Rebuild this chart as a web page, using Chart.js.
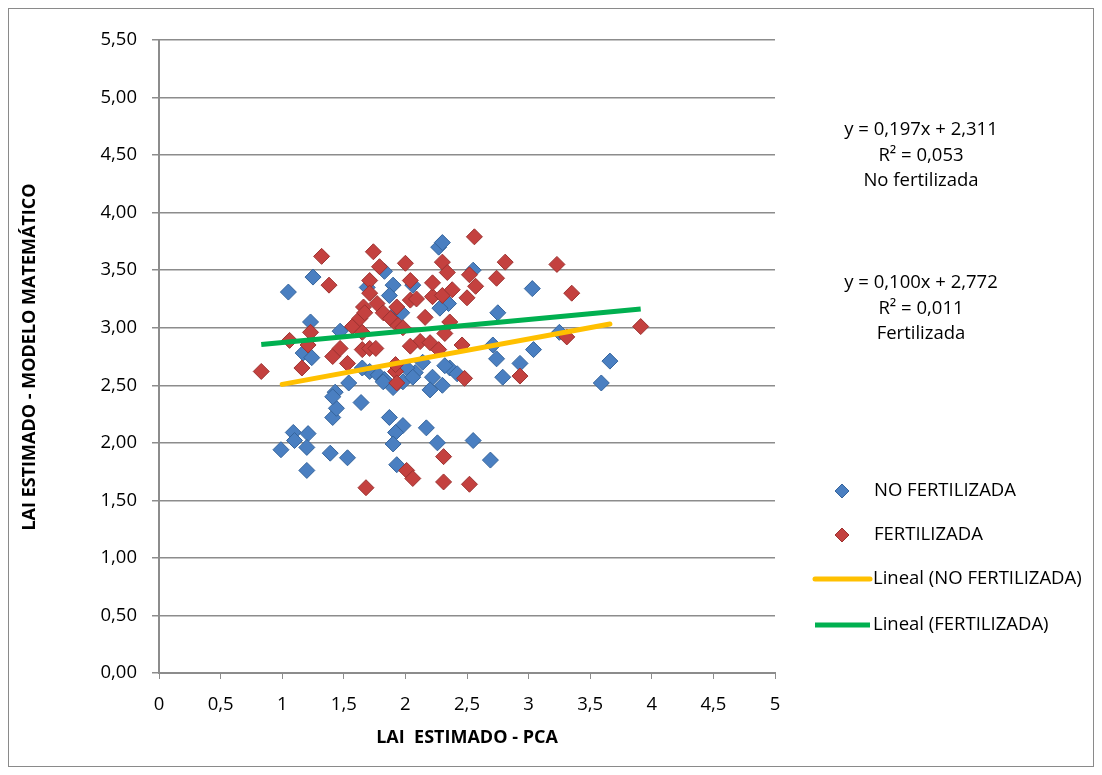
<!DOCTYPE html>
<html>
<head>
<meta charset="utf-8">
<script src="https://cdn.jsdelivr.net/npm/chart.js@4.4.1/dist/chart.umd.min.js"></script>
<style>
  body { margin: 0; background: #fff; }
  #wrap { width: 1102px; height: 775px; position: relative; }
</style>
</head>
<body>
<div id="wrap"><canvas id="chart" width="1102" height="775"></canvas></div>
<script>
// LAI estimado: PCA (x) vs modelo matemático (y)
const noFertX = [0.99, 1.05, 1.09, 1.10, 1.21, 1.20, 1.20, 1.17, 1.24, 1.23, 1.25, 1.39, 1.53, 1.41, 1.44, 1.43, 1.41, 1.54, 1.64, 1.47,
  1.71, 1.78, 1.83, 1.90, 1.87, 1.98, 1.92, 1.90, 1.93, 1.69, 1.83, 1.90, 1.87, 1.94, 1.97, 2.06, 2.27, 2.30, 2.55, 2.35,
  2.28, 3.03, 2.75, 3.25, 2.71, 3.04, 3.66, 2.74, 2.93, 2.79, 3.59, 2.08, 2.22, 2.30, 2.20, 2.36, 2.32, 2.01, 1.98, 2.17,
  2.26, 2.55, 2.69, 1.82, 2.06, 1.65, 2.14, 2.42];
const noFertY = [1.94, 3.31, 2.09, 2.02, 2.08, 1.96, 1.76, 2.78, 2.74, 3.05, 3.44, 1.91, 1.87, 2.22, 2.30, 2.44, 2.40, 2.52, 2.35, 2.97,
  2.62, 2.59, 2.55, 2.48, 2.22, 2.15, 2.09, 1.99, 1.81, 3.35, 3.49, 3.37, 3.28, 3.15, 3.13, 3.37, 3.70, 3.74, 3.50, 3.21,
  3.17, 3.34, 3.13, 2.96, 2.85, 2.81, 2.71, 2.73, 2.69, 2.57, 2.52, 2.61, 2.57, 2.50, 2.46, 2.65, 2.67, 2.65, 2.53, 2.13,
  2.00, 2.02, 1.85, 2.53, 2.57, 2.65, 2.70, 2.60];

const fertX = [0.83, 1.06, 1.16, 1.21, 1.23, 1.32, 1.38, 1.41, 1.47, 1.53, 1.57, 1.65, 1.65, 1.71, 1.74, 1.79, 1.71, 1.71, 1.77, 1.66,
  1.82, 1.88, 1.63, 1.67, 1.94, 1.68, 1.92, 1.93, 1.92, 2.01, 2.06, 2.31, 2.31, 2.52, 2.00, 2.04, 2.04, 2.09, 2.22, 2.30,
  2.38, 2.50, 2.22, 2.30, 2.34, 2.52, 2.57, 2.56, 2.74, 2.81, 3.23, 3.35, 2.16, 2.36, 2.32, 1.98, 2.12, 2.20, 2.27, 2.04,
  2.46, 2.48, 2.93, 3.31, 3.91, 1.93, 1.76];
const fertY = [2.62, 2.89, 2.65, 2.85, 2.96, 3.62, 3.37, 2.75, 2.82, 2.69, 3.01, 2.96, 2.81, 2.82, 3.66, 3.53, 3.41, 3.30, 3.21, 3.18,
  3.13, 3.08, 3.08, 3.13, 3.02, 1.61, 2.62, 2.52, 2.68, 1.76, 1.69, 1.88, 1.66, 1.64, 3.56, 3.41, 3.24, 3.25, 3.27, 3.28,
  3.33, 3.26, 3.39, 3.57, 3.48, 3.46, 3.36, 3.79, 3.43, 3.57, 3.55, 3.30, 3.09, 3.05, 2.95, 3.00, 2.88, 2.87, 2.81, 2.84,
  2.85, 2.56, 2.58, 2.92, 3.01, 3.18, 2.82];

// trend line end points
const noFertTrendX = [1.00, 3.66];
const noFertTrendY = [2.508, 3.032];
const fertTrendX = [0.83, 3.91];
const fertTrendY = [2.855, 3.163];

const seriesNames = ['NO FERTILIZADA', 'FERTILIZADA', 'Lineal (NO FERTILIZADA)', 'Lineal (FERTILIZADA)'];
const equationLines = [
  ['y = 0,197x + 2,311', 'R² = 0,053', 'No fertilizada'],
  ['y = 0,100x + 2,772', 'R² = 0,011', 'Fertilizada']
];
const xTitle = 'LAI  ESTIMADO - PCA';
const yTitle = 'LAI ESTIMADO - MODELO MATEMÁTICO';

const FONT = '"Open Sans", "Noto Sans", sans-serif';
const AXIS_GRAY = '#8c8c8c';

function pairs(xs, ys) {
  return xs.map((x, i) => ({ x: x, y: ys[i] }));
}

function comma(v, d) {
  return v.toFixed(d).replace('.', ',');
}

// legend, equations, axis titles, outer frame
const extrasPlugin = {
  id: 'extras',
  afterDraw(chart) {
    const ctx = chart.ctx;
    ctx.save();

    // outer frame
    ctx.strokeStyle = '#8a8a8a';
    ctx.lineWidth = 1;
    ctx.strokeRect(8.5, 8.5, 1085, 758);

    // equations
    ctx.fillStyle = '#000';
    ctx.font = '18.5px ' + FONT;
    ctx.textAlign = 'center';
    ctx.textBaseline = 'middle';
    const eqTops = [130, 283];
    equationLines.forEach((lines, k) => {
      lines.forEach((t, i) => ctx.fillText(t, 921, eqTops[k] + i * 25.5));
    });

    // legend
    const ds = chart.data.datasets;
    const rows = [491, 535, 579, 625];
    ctx.textAlign = 'left';
    for (let i = 0; i < 4; i++) {
      const d = ds.find(s => s.label === seriesNames[i]);
      const y = rows[i];
      if (i < 2) {
        ctx.beginPath();
        ctx.moveTo(842, y - 7);
        ctx.lineTo(849, y);
        ctx.lineTo(842, y + 7);
        ctx.lineTo(835, y);
        ctx.closePath();
        ctx.fillStyle = d.backgroundColor;
        ctx.fill();
        ctx.strokeStyle = d.borderColor;
        ctx.stroke();
      } else {
        ctx.beginPath();
        ctx.moveTo(815, y);
        ctx.lineTo(870, y);
        ctx.strokeStyle = d.borderColor;
        ctx.lineWidth = 5;
        ctx.lineCap = i === 2 ? 'round' : 'butt';
        ctx.stroke();
        ctx.lineWidth = 1;
      }
      ctx.fillStyle = '#000';
      ctx.fillText(seriesNames[i], i < 2 ? 874 : 873, y);
    }

    // axis titles
    ctx.font = 'bold 18px ' + FONT;
    ctx.textAlign = 'center';
    ctx.fillText(xTitle, 467, 738);
    ctx.translate(30, 357);
    ctx.rotate(-Math.PI / 2);
    ctx.fillText(yTitle, 0, 0);

    ctx.restore();
  }
};

const ctx = document.getElementById('chart').getContext('2d');
new Chart(ctx, {
  type: 'scatter',
  data: {
    datasets: [
      {
        type: 'line',
        label: seriesNames[2],
        data: pairs(noFertTrendX, noFertTrendY),
        borderColor: '#ffc000',
        borderWidth: 5,
        borderCapStyle: 'round',
        pointRadius: 0,
        fill: false,
        order: 0
      },
      {
        type: 'line',
        label: seriesNames[3],
        data: pairs(fertTrendX, fertTrendY),
        borderColor: '#00b050',
        borderWidth: 5,
        pointRadius: 0,
        fill: false,
        order: 0
      },
      {
        label: seriesNames[1],
        data: pairs(fertX, fertY),
        pointStyle: 'rectRot',
        pointRadius: 8,
        backgroundColor: '#c4413f',
        borderColor: '#9c3230',
        borderWidth: 1,
        order: 1
      },
      {
        label: seriesNames[0],
        data: pairs(noFertX, noFertY),
        pointStyle: 'rectRot',
        pointRadius: 8,
        backgroundColor: '#4a7fc1',
        borderColor: '#35649c',
        borderWidth: 1,
        order: 2
      }
    ]
  },
  options: {
    responsive: false,
    animation: false,
    events: [],
    layout: { padding: { left: 0, top: 40, right: 327, bottom: 0 } },
    plugins: {
      legend: { display: false },
      tooltip: { enabled: false }
    },
    scales: {
      x: {
        type: 'linear',
        min: 0,
        max: 5,
        afterFit(scale) { scale.height = 102; },
        ticks: {
          stepSize: 0.5,
          color: '#000',
          padding: 15,
          font: { family: FONT, size: 18.5 },
          callback: v => Number.isInteger(v) ? String(v) : comma(v, 1)
        },
        grid: { drawOnChartArea: false, drawTicks: true, tickLength: 6, color: AXIS_GRAY },
        border: { display: true, color: AXIS_GRAY, width: 2 }
      },
      y: {
        type: 'linear',
        min: 0,
        max: 5.5,
        afterFit(scale) { scale.width = 159; },
        ticks: {
          stepSize: 0.5,
          color: '#000',
          padding: 15,
          font: { family: FONT, size: 18.5 },
          callback: v => comma(v, 2)
        },
        grid: { color: '#8c8c8c', lineWidth: 1.5, drawTicks: true, tickLength: 7 },
        border: { display: true, color: AXIS_GRAY, width: 2 }
      }
    }
  },
  plugins: [extrasPlugin]
});
</script>
</body>
</html>
